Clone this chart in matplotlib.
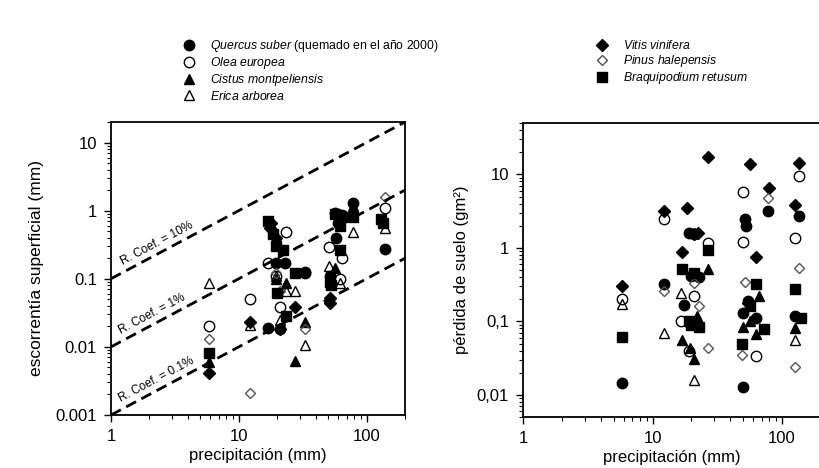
import numpy as np
import matplotlib
matplotlib.use("Agg")
import matplotlib.pyplot as plt
from matplotlib.ticker import LogLocator, FuncFormatter, NullFormatter
from matplotlib.lines import Line2D

plt.rcParams['font.family'] = ['Liberation Sans', 'DejaVu Sans']
plt.rcParams['mathtext.fontset'] = 'custom'
plt.rcParams['mathtext.it'] = 'Liberation Sans:italic'
plt.rcParams['mathtext.rm'] = 'Liberation Sans'

# -----------------------------
# Data: escorrentia superficial (mm)
# -----------------------------
qs_x_esc = [17, 21, 19.5, 23, 33, 58, 52, 78, 140, 64, 60]
qs_y_esc = [0.019, 0.018, 0.17, 0.17, 0.12, 0.40, 0.11, 1.3, 0.27, 0.85, 0.65]

oe_x_esc = [5.8, 12.3, 23.5, 17, 21, 33, 51, 57, 64, 62, 140, 19.5]
oe_y_esc = [0.02, 0.051, 0.48, 0.17, 0.038, 0.125, 0.29, 0.93, 0.2, 0.1, 1.1, 0.11]

cm_x_esc = [5.8, 19.5, 23.5, 27.5, 33, 57, 78]
cm_y_esc = [0.006, 0.1, 0.087, 0.0063, 0.023, 0.145, 1.15]

ea_x_esc = [5.8, 12.3, 23.5, 27.5, 33, 21, 51, 62, 78, 140, 19.5]
ea_y_esc = [0.088, 0.021, 0.066, 0.066, 0.0105, 0.025, 0.155, 0.088, 0.48, 0.55, 0.11]

vv_x_esc = [5.8, 12.3, 17.5, 19.5, 27.5, 52, 52, 21, 18]
vv_y_esc = [0.0042, 0.023, 0.55, 0.4, 0.039, 0.052, 0.044, 0.018, 0.65]

ph_x_esc = [5.8, 12.3, 33, 140, 19.5, 21]
ph_y_esc = [0.013, 0.0021, 0.018, 1.6, 0.12, 0.065]

br_x_esc = [5.8, 17, 18.5, 19.5, 22, 20, 23.5, 27.5, 52, 53, 62, 62, 64, 78, 130, 135, 57]
br_y_esc = [0.0082, 0.7, 0.45, 0.3, 0.26, 0.062, 0.028, 0.12, 0.09, 0.08, 0.26, 0.6, 0.8, 0.8, 0.75, 0.65, 0.9]

# -----------------------------
# Data: perdida de suelo (g m-2)
# -----------------------------
qs_x_sue = [5.8, 12.3, 19, 21, 17.5, 20, 23, 50, 52, 53, 78, 135, 125, 63, 55, 50]
qs_y_sue = [0.0145, 0.32, 1.6, 1.55, 0.165, 0.42, 0.4, 0.0127, 2.5, 2.0, 3.2, 2.7, 0.117, 0.11, 0.19, 0.13]

oe_x_sue = [5.8, 12.3, 16.5, 19, 21, 27, 50, 50, 63, 135, 125]
oe_y_sue = [0.2, 2.5, 0.1, 0.04, 0.22, 1.15, 5.8, 1.2, 0.034, 9.4, 1.38]

cm_x_sue = [17, 19.5, 21, 22, 27, 50, 63, 67, 125, 57]
cm_y_sue = [0.055, 0.043, 0.031, 0.12, 0.52, 0.085, 0.068, 0.22, 0.08, 0.1]

ea_x_sue = [5.8, 12.3, 16.5, 21, 125]
ea_y_sue = [0.175, 0.069, 0.24, 0.016, 0.055]

vv_x_sue = [5.8, 12.3, 18.5, 21, 22.5, 17, 27, 57, 63, 80, 135, 125, 55]
vv_y_sue = [0.3, 3.2, 3.5, 1.55, 1.6, 0.89, 17.5, 13.8, 0.74, 6.5, 14.5, 3.8, 0.18]

ph_x_sue = [12.3, 21, 23, 27, 52, 49, 78, 135, 125, 19]
ph_y_sue = [0.26, 0.33, 0.16, 0.043, 0.34, 0.035, 4.8, 0.54, 0.024, 0.09]

br_x_sue = [5.8, 17, 19, 20, 21, 23, 27, 63, 49, 57, 72, 125, 140]
br_y_sue = [0.062, 0.52, 0.1, 0.09, 0.45, 0.085, 0.95, 0.32, 0.05, 0.16, 0.078, 0.28, 0.11]

coef_values = [0.1, 0.01, 0.001]
coef_labels = ["R. Coef. = 10%", "R. Coef. = 1%", "R. Coef. = 0.1%"]
coef_label_x = [2.4, 2.2, 2.4]

labels = [
    r"$\mathit{Quercus\ suber}$ (quemado en el año 2000)",
    r"$\mathit{Olea\ europea}$",
    r"$\mathit{Cistus\ montpeliensis}$",
    r"$\mathit{Erica\ arborea}$",
    r"$\mathit{Vitis\ vinifera}$",
    r"$\mathit{Pinus\ halepensis}$",
    r"$\mathit{Braquipodium\ retusum}$",
]

# marker styles: (marker, filled, size)
styles = [
    ("o", True, 7.5),
    ("o", False, 7.5),
    ("^", True, 7),
    ("^", False, 7),
    ("D", True, 6),
    ("D", False, 5.5),
    ("s", True, 6.5),
]

esc = [(qs_x_esc, qs_y_esc), (oe_x_esc, oe_y_esc), (cm_x_esc, cm_y_esc), (ea_x_esc, ea_y_esc),
       (vv_x_esc, vv_y_esc), (ph_x_esc, ph_y_esc), (br_x_esc, br_y_esc)]
sue = [(qs_x_sue, qs_y_sue), (oe_x_sue, oe_y_sue), (cm_x_sue, cm_y_sue), (ea_x_sue, ea_y_sue),
       (vv_x_sue, vv_y_sue), (ph_x_sue, ph_y_sue), (br_x_sue, br_y_sue)]

W, H = 820, 468
fig = plt.figure(figsize=(W / 100, H / 100), dpi=100)

def px_axes(l, r, t, b):
    return fig.add_axes([l / W, 1 - b / H, (r - l) / W, (b - t) / H])

ax1 = px_axes(111, 405, 122, 415)
ax2 = px_axes(523, 821, 123, 417)

def draw_points(ax, data):
    handles = []
    for (x, y), (m, filled, s) in zip(data, styles):
        fc = "black" if filled else "none"
        ec = "black" if filled or m != "D" else "#555555"
        ax.plot(x, y, linestyle="none", marker=m, markersize=s,
                markerfacecolor=fc, markeredgecolor=ec, markeredgewidth=1.0)
        handles.append(Line2D([], [], linestyle="none", marker=m, markersize=s,
                              markerfacecolor=fc, markeredgecolor=ec, markeredgewidth=1.0))
    return handles

def style_axes(ax, comma=False):
    ax.set_xscale("log")
    ax.set_yscale("log")
    ax.tick_params(which="both", direction="out", labelsize=12)
    ax.tick_params(which="major", length=5, width=1, pad=5)
    ax.tick_params(which="minor", length=3, width=0.8)
    ax.xaxis.set_major_locator(LogLocator(base=10))
    ax.yaxis.set_major_locator(LogLocator(base=10))
    ax.xaxis.set_minor_locator(LogLocator(base=10, subs=np.arange(2, 10)))
    ax.yaxis.set_minor_locator(LogLocator(base=10, subs=np.arange(2, 10)))
    ax.xaxis.set_major_formatter(FuncFormatter(lambda v, p: f"{v:g}"))
    if comma:
        ax.yaxis.set_major_formatter(FuncFormatter(lambda v, p: f"{v:g}".replace(".", ",")))
    else:
        ax.yaxis.set_major_formatter(FuncFormatter(lambda v, p: f"{v:g}"))
    ax.xaxis.set_minor_formatter(NullFormatter())
    ax.yaxis.set_minor_formatter(NullFormatter())
    for sp in ax.spines.values():
        sp.set_linewidth(1.3)
    ax.set_xlabel("precipitación (mm)", fontsize=12, labelpad=3)

# -----------------------------
# Left panel
# -----------------------------
h = draw_points(ax1, esc)
style_axes(ax1)
ax1.set_xlim(1, 200)
ax1.set_ylim(0.001, 20)
ax1.set_ylabel("escorrentía superficial (mm)", fontsize=12.5, labelpad=8)

xl = np.array([1, 200])
p0 = ax1.transData.transform((1, 1))
p1 = ax1.transData.transform((10, 10))
angle = np.degrees(np.arctan2(p1[1] - p0[1], p1[0] - p0[0]))
for c, lab, lx in zip(coef_values, coef_labels, coef_label_x):
    ax1.plot(xl, c * xl, color="black", linestyle=(0, (4, 2.2)), linewidth=2)
    ax1.text(lx, c * lx * 1.15, lab, rotation=angle, rotation_mode="anchor",
             ha="center", va="bottom", fontsize=8.5)

# -----------------------------
# Right panel
# -----------------------------
draw_points(ax2, sue)
style_axes(ax2, comma=True)
ax2.set_xlim(1, 200)
ax2.set_ylim(0.005, 50)
ax2.set_ylabel("pérdida de suelo (gm²)", fontsize=12, labelpad=6)

# -----------------------------
# Legends
# -----------------------------
fig.legend(h[:4], labels[:4], loc="upper left", bbox_to_anchor=(183 / W, 1 - 38 / H),
           frameon=False, fontsize=8.8, handlelength=1, handletextpad=1.2,
           labelspacing=0.1, borderpad=0, borderaxespad=0)
fig.legend(h[4:], labels[4:], loc="upper left", bbox_to_anchor=(596 / W, 1 - 39 / H),
           frameon=False, fontsize=8.8, handlelength=1, handletextpad=1.2,
           labelspacing=0.1, borderpad=0, borderaxespad=0)

fig.savefig("out.png", dpi=100)
